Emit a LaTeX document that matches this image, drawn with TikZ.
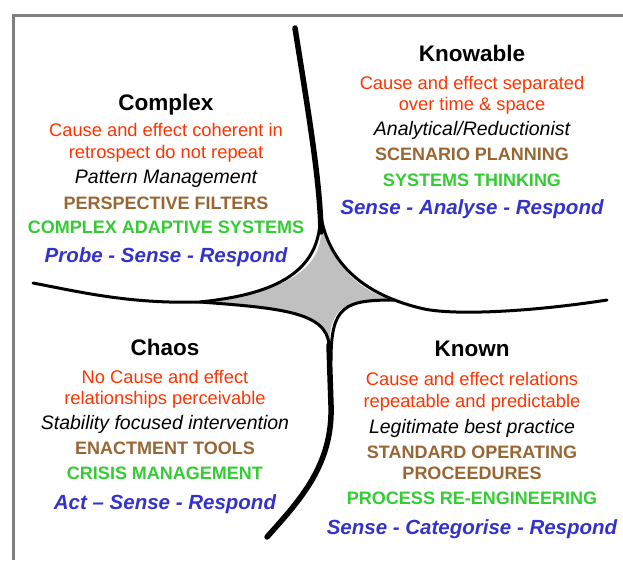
\documentclass[tikz,border=0pt]{standalone}
\usepackage{fontspec}
\setmainfont{Liberation Sans}
\definecolor{causered}{RGB}{255,51,0}
\definecolor{toolbrown}{RGB}{153,102,51}
\definecolor{methodgreen}{RGB}{51,204,51}
\definecolor{responseblue}{RGB}{51,51,204}
\definecolor{starfill}{RGB}{192,192,192}
\definecolor{framegray}{RGB}{128,128,128}

\begin{document}
\begin{tikzpicture}[x=1pt,y=-1pt,
        heading/.style={anchor=base,font=\fontsize{22.5}{26}\selectfont\bfseries},
        cause/.style={anchor=base,text=causered,font=\fontsize{18.3}{22}\selectfont},
        practice/.style={anchor=base,font=\fontsize{19.5}{23}\selectfont\itshape},
        tool/.style={anchor=base,text=toolbrown,font=\fontsize{18}{22}\selectfont\bfseries},
        method/.style={anchor=base,text=methodgreen,font=\fontsize{18}{22}\selectfont\bfseries},
        response/.style={anchor=base,text=responseblue,font=\fontsize{20.5}{24}\selectfont\bfseries\itshape},
        thick stroke/.style={line width=5.5pt,line cap=round},
        thin stroke/.style={line width=3pt,line cap=round}]
    \useasboundingbox (0,0) rectangle (623,560);

    % frame
    \draw[framegray,line width=3pt] (13,560) -- (13,15) -- (623,15);

    % corner points of the star
    \coordinate (topend) at (295,28);
    \coordinate (leftend) at (33,283);
    \coordinate (rightend) at (607,300);
    \coordinate (botend) at (267,537);
    \coordinate (T) at (319,200);
    \coordinate (L) at (200,302);
    \coordinate (R) at (395,300);
    \coordinate (B) at (329,345);

    \fill[starfill] (T) .. controls (322,255) and (355,292) .. (R)
        .. controls (345,300) and (331,305) .. (B)
        .. controls (327,312) and (280,308) .. (L)
        .. controls (255,296) and (322,282) .. (321,230) -- cycle;

    \draw[thick stroke] (topend) .. controls (308,110) and (320,180) .. (321,232);
    \draw[thin stroke] (320,215) .. controls (322,282) and (255,296) .. (L);
    \draw[thin stroke] (leftend) .. controls (80,292) and (130,304) .. (L)
        .. controls (280,308) and (327,312) .. (B);
    \draw[thin stroke] (T) .. controls (322,255) and (355,292) .. (420,308)
        .. controls (450,316) and (530,312) .. (rightend);
    \draw[thin stroke] (331,360) .. controls (331,305) and (345,300) .. (R);
    \draw[thick stroke] (B) -- (331,405) .. controls (333,465) and (300,500) .. (botend);

    % Complex
    \node[heading] (complex) at (166,110) {Complex};
    \node[cause] (complexc1) at (166,136.5) {Cause and effect coherent in};
    \node[cause] (complexc2) at (166,158.5) {retrospect do not repeat};
    \node[practice] (complexp) at (166,183.5) {Pattern Management};
    \node[tool] (complext) at (166,209.5) {PERSPECTIVE FILTERS};
    \node[method] (complexm) at (166,233.5) {COMPLEX ADAPTIVE SYSTEMS};
    \node[response] (complexr) at (166,262) {Probe - Sense - Respond};

    % Knowable
    \node[heading] (knowable) at (472,61) {Knowable};
    \node[cause] (knowablec1) at (472,89.5) {Cause and effect separated};
    \node[cause] (knowablec2) at (472,110.5) {over time \& space};
    \node[practice] (knowablep) at (472,135.5) {Analytical/Reductionist};
    \node[tool] (knowablet) at (472,160.5) {SCENARIO PLANNING};
    \node[method] (knowablem) at (472,186.5) {SYSTEMS THINKING};
    \node[response] (knowabler) at (472,214) {Sense - Analyse - Respond};

    % Chaos
    \node[heading] (chaos) at (165,355) {Chaos};
    \node[cause] (chaosc1) at (165,383.5) {No Cause and effect};
    \node[cause] (chaosc2) at (165,404.5) {relationships perceivable};
    \node[practice] (chaosp) at (165,429.5) {Stability focused intervention};
    \node[tool] (chaost) at (165,454.5) {ENACTMENT TOOLS};
    \node[method] (chaosm) at (165,479.5) {CRISIS MANAGEMENT};
    \node[response] (chaosr) at (165,509) {Act – Sense - Respond};

    % Known
    \node[heading] (known) at (472,356) {Known};
    \node[cause] (knownc1) at (472,385.5) {Cause and effect relations};
    \node[cause] (knownc2) at (472,407.5) {repeatable and predictable};
    \node[practice] (knownp) at (472,433.5) {Legitimate best practice};
    \node[tool] (knownt1) at (472,458.5) {STANDARD OPERATING};
    \node[tool] (knownt2) at (472,479.5) {PROCEEDURES};
    \node[method] (knownm) at (472,504.5) {PROCESS RE-ENGINEERING};
    \node[response] (knownr) at (472,534) {Sense - Categorise - Respond};
\end{tikzpicture}
\end{document}
